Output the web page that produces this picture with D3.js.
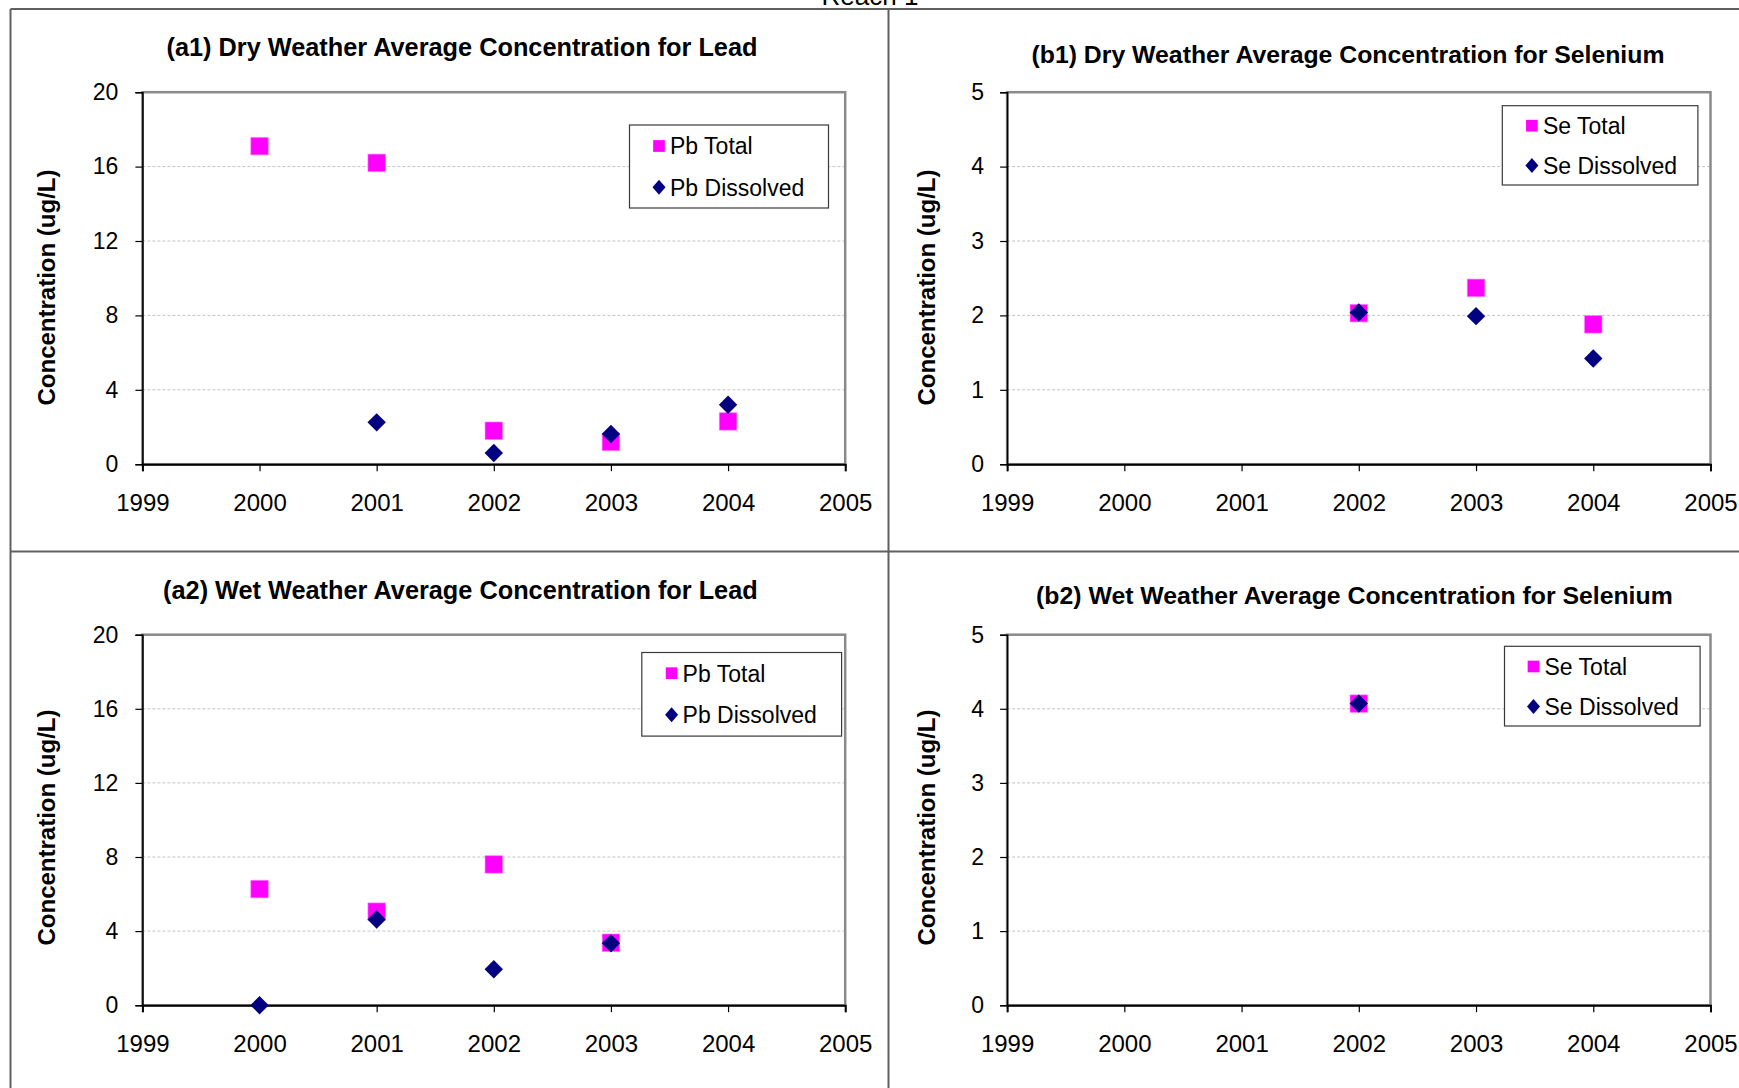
<!DOCTYPE html>
<html>
<head>
<meta charset="utf-8">
<script src="https://cdn.jsdelivr.net/npm/d3@7"></script>
<style>
  html, body { margin: 0; padding: 0; background: #fff; }
  svg { display: block; font-family: "Liberation Sans", Arimo, Arial, sans-serif; }
</style>
</head>
<body>
<svg id="chart" width="1739" height="1088"></svg>
<script>
// Sampling years and axis ticks
const years = [2000, 2001, 2002, 2003, 2004];
const yearTicks = [1999, 2000, 2001, 2002, 2003, 2004, 2005];
const leadTicks = [0, 4, 8, 12, 16, 20];
const seleniumTicks = [0, 1, 2, 3, 4, 5];

// Average concentrations (ug/L); null = no sample that year
const pbDryTotal     = [17.1, 16.2, 1.8, 1.2, 2.3];
const pbDryDissolved = [null, 2.25, 0.6, 1.62, 3.2];
const seDryTotal     = [null, null, 2.03, 2.37, 1.88];
const seDryDissolved = [null, null, 2.04, 1.99, 1.42];
const pbWetTotal     = [6.27, 5.05, 7.6, 3.37, null];
const pbWetDissolved = [0, 4.63, 1.94, 3.34, null];
const seWetTotal     = [null, null, 4.07, null, null];
const seWetDissolved = [null, null, 4.07, null, null];

const titles = [
  "(a1) Dry Weather Average Concentration for Lead",
  "(b1) Dry Weather Average Concentration for Selenium",
  "(a2) Wet Weather Average Concentration for Lead",
  "(b2) Wet Weather Average Concentration for Selenium"
];

const TOTAL_COLOR = "#FF00FF";
const DISSOLVED_COLOR = "#000080";
const FONT = "'Liberation Sans', Arimo, Arial, sans-serif";

const svg = d3.select("#chart");

// Sheet heading, mostly above the visible area
svg.append("text")
  .attr("x", 870).attr("y", 5)
  .attr("text-anchor", "middle")
  .attr("font-size", 26)
  .attr("fill", "#000")
  .text("Reach 1");

// Cell frame around the four panels
const frame = svg.append("g").attr("stroke", "#606060").attr("stroke-width", 2).attr("fill", "none");
frame.append("line").attr("x1", 10.5).attr("x2", 1739).attr("y1", 9).attr("y2", 9);
frame.append("line").attr("x1", 10.5).attr("x2", 10.5).attr("y1", 9).attr("y2", 1088);
frame.append("line").attr("x1", 888.5).attr("x2", 888.5).attr("y1", 9).attr("y2", 1088);
frame.append("line").attr("x1", 10.5).attr("x2", 1739).attr("y1", 551.5).attr("y2", 551.5);

const panels = [
  {
    title: titles[0], titleX: 462, titleY: 55.7, titleSize: 25.3,
    left: 142.4, right: 845.2, top: 92.2, bottom: 464.2,
    yMax: 20, yTicks: leadTicks, labelGap: 17,
    yTitleX: 54.5, yTitleY: 287.5,
    total: pbDryTotal, dissolved: pbDryDissolved,
    names: ["Pb Total", "Pb Dissolved"],
    legend: { x0: 629.5, x1: 828.5, y0: 125, y1: 208, mx: 659, rows: [146, 187.3] }
  },
  {
    title: titles[1], titleX: 1348, titleY: 63, titleSize: 24.8,
    left: 1007.1, right: 1710.5, top: 92.2, bottom: 464.2,
    yMax: 5, yTicks: seleniumTicks, labelGap: 16,
    yTitleX: 935, yTitleY: 287.5,
    total: seDryTotal, dissolved: seDryDissolved,
    names: ["Se Total", "Se Dissolved"],
    legend: { x0: 1502.3, x1: 1697.9, y0: 105.7, y1: 185, mx: 1531.9, rows: [125.7, 165.4] }
  },
  {
    title: titles[2], titleX: 460.4, titleY: 598.5, titleSize: 25.3,
    left: 142.4, right: 845.2, top: 634.7, bottom: 1005.2,
    yMax: 20, yTicks: leadTicks, labelGap: 17,
    yTitleX: 54.5, yTitleY: 827.5,
    total: pbWetTotal, dissolved: pbWetDissolved,
    names: ["Pb Total", "Pb Dissolved"],
    legend: { x0: 641.8, x1: 841.6, y0: 652.5, y1: 736.1, mx: 671.6, rows: [673.2, 714.8] }
  },
  {
    title: titles[3], titleX: 1354.4, titleY: 604, titleSize: 24.8,
    left: 1007.1, right: 1710.5, top: 634.7, bottom: 1005.2,
    yMax: 5, yTicks: seleniumTicks, labelGap: 16,
    yTitleX: 935, yTitleY: 827.5,
    total: seWetTotal, dissolved: seWetDissolved,
    names: ["Se Total", "Se Dissolved"],
    legend: { x0: 1504.5, x1: 1700.1, y0: 646.3, y1: 726, mx: 1533.5, rows: [666.5, 706.4] }
  }
];

const squarePath = s => `M${-s/2},${-s/2}h${s}v${s}h${-s}Z`;
const diamondPath = (w, h) => `M0,${-h}L${w},0L0,${h}L${-w},0Z`;

panels.forEach(p => {
  const g = svg.append("g");
  const x = d3.scaleLinear().domain([1999, 2005]).range([p.left, p.right]);
  const y = d3.scaleLinear().domain([0, p.yMax]).range([p.bottom, p.top]);

  // Title
  g.append("text")
    .attr("x", p.titleX).attr("y", p.titleY)
    .attr("text-anchor", "middle")
    .attr("font-size", p.titleSize).attr("font-weight", "bold")
    .text(p.title);

  // Gridlines
  g.append("g")
    .selectAll("line")
    .data(p.yTicks.filter(t => t > 0 && t < p.yMax))
    .join("line")
    .attr("x1", p.left).attr("x2", p.right)
    .attr("y1", d => y(d)).attr("y2", d => y(d))
    .attr("stroke", "#c4c4c4").attr("stroke-width", 1)
    .attr("stroke-dasharray", "3,2");

  // Plot-area border (top/right gray)
  g.append("rect")
    .attr("x", p.left).attr("y", p.top)
    .attr("width", p.right - p.left).attr("height", p.bottom - p.top)
    .attr("fill", "none").attr("stroke", "#8a8a8a").attr("stroke-width", 2.5);

  // Y axis
  const yAxis = g.append("g")
    .attr("transform", `translate(${p.left},0)`)
    .call(d3.axisLeft(y).tickValues(p.yTicks).tickSize(7).tickPadding(p.labelGap).tickFormat(d3.format("d")));
  yAxis.attr("font-family", FONT);
  yAxis.select(".domain").attr("stroke", "#000").attr("stroke-width", 1.6);
  yAxis.selectAll(".tick line").attr("stroke", "#000").attr("stroke-width", 1.2);
  yAxis.selectAll(".tick text")
    .attr("font-size", 23).attr("fill", "#000");

  // X axis
  const xAxis = g.append("g")
    .attr("transform", `translate(0,${p.bottom})`)
    .call(d3.axisBottom(x).tickValues(yearTicks).tickSize(7).tickPadding(22.5).tickFormat(d3.format("d")));
  xAxis.attr("font-family", FONT);
  xAxis.select(".domain").attr("stroke", "#000").attr("stroke-width", 2);
  xAxis.selectAll(".tick line").attr("stroke", "#000").attr("stroke-width", 1.2);
  xAxis.selectAll(".tick text")
    .attr("font-size", 24).attr("fill", "#000");

  // Y-axis title
  g.append("text")
    .attr("transform", `translate(${p.yTitleX},${p.yTitleY}) rotate(-90)`)
    .attr("text-anchor", "middle")
    .attr("font-size", 24).attr("font-weight", "bold")
    .text("Concentration (ug/L)");

  // Totals (squares), then dissolved (diamonds) on top
  const totalPts = years.map((yr, i) => ({ yr, v: p.total[i] })).filter(d => d.v !== null);
  const dissPts = years.map((yr, i) => ({ yr, v: p.dissolved[i] })).filter(d => d.v !== null);

  g.append("g").selectAll("path").data(totalPts).join("path")
    .attr("transform", d => `translate(${x(d.yr)},${y(d.v)})`)
    .attr("d", squarePath(17.5))
    .attr("fill", TOTAL_COLOR).attr("stroke", "#ff7dff").attr("stroke-width", 0.6);

  g.append("g").selectAll("path").data(dissPts).join("path")
    .attr("transform", d => `translate(${x(d.yr)},${y(d.v)})`)
    .attr("d", diamondPath(9.2, 9.2))
    .attr("fill", DISSOLVED_COLOR);

  // Legend
  const L = p.legend;
  const lg = g.append("g");
  lg.append("rect")
    .attr("x", L.x0).attr("y", L.y0)
    .attr("width", L.x1 - L.x0).attr("height", L.y1 - L.y0)
    .attr("fill", "#fff").attr("stroke", "#3a3a3a").attr("stroke-width", 1.2);
  lg.append("path")
    .attr("transform", `translate(${L.mx},${L.rows[0]})`)
    .attr("d", squarePath(11.7))
    .attr("fill", TOTAL_COLOR);
  lg.append("path")
    .attr("transform", `translate(${L.mx},${L.rows[1]})`)
    .attr("d", diamondPath(6.5, 7.5))
    .attr("fill", DISSOLVED_COLOR);
  p.names.forEach((name, i) => {
    lg.append("text")
      .attr("x", L.mx + 11).attr("y", L.rows[i] + 8.3)
      .attr("font-size", 23)
      .text(name);
  });
});
</script>
</body>
</html>
